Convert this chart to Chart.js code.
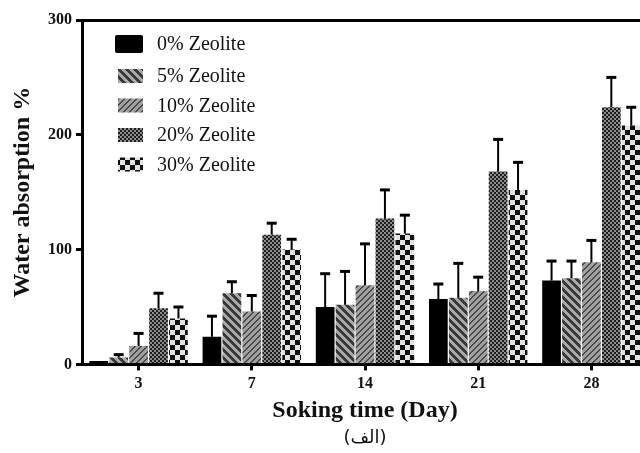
<!DOCTYPE html>
<html lang="en">
<head>
  <meta charset="UTF-8">
  <title>Water absorption</title>
  <script src="https://cdn.jsdelivr.net/npm/chart.js"></script>
  <style>
    html, body { margin: 0; padding: 0; background: #fff; overflow: hidden; }
    #wrap { width: 640px; height: 453px; overflow: hidden; }
  </style>
</head>
<body>
  <div id="wrap"><canvas id="chart" width="726" height="453"></canvas></div>

  <script>
    // data
    const days = ['3', '7', '14', '21', '28'];
    const seriesNames = ['0% Zeolite', '5% Zeolite', '10% Zeolite', '20% Zeolite', '30% Zeolite'];
    const zeolite0 = [3, 24, 50, 57, 73];
    const zeolite5 = [6, 62, 52, 58, 75];
    const zeolite10 = [16, 46, 69, 64, 89];
    const zeolite20 = [49, 113, 127, 168, 224];
    const zeolite30 = [40, 100, 114, 152, 208];
    const sd0 = [0, 18, 29, 13, 17];
    const sd5 = [2.5, 10, 29, 30, 15];
    const sd10 = [11, 14, 36, 12, 19];
    const sd20 = [13, 10, 25, 28, 26];
    const sd30 = [10, 9, 16, 24, 16];
    const yTicks = [0, 100, 200, 300];

    const serif = "'Liberation Serif', 'Times New Roman', serif";

    // fill patterns
    function makePattern(size, pick) {
      const c = document.createElement('canvas');
      c.width = size; c.height = size;
      const g = c.getContext('2d');
      const img = g.createImageData(size, size);
      for (let y = 0; y < size; y++) {
        for (let x = 0; x < size; x++) {
          const v = pick(x, y);
          const i = (y * size + x) * 4;
          img.data[i] = v; img.data[i + 1] = v; img.data[i + 2] = v; img.data[i + 3] = 255;
        }
      }
      g.putImageData(img, 0, 0);
      return document.createElement('canvas').getContext('2d').createPattern(c, 'repeat');
    }
    const fills = [
      '#000000',
      makePattern(8, (x, y) => (((x - y) % 8 + 8) % 8) < 4 ? 0x3a : 0xa8),
      makePattern(6, (x, y) => ((x + y) % 6) < 2 ? 0x4a : 0xa0),
      makePattern(4, (x, y) => ((x >> 1) + (y >> 1)) % 2 ? 0x1e : 0x8c),
      makePattern(10, (x, y) => ((Math.floor(x / 5) + Math.floor(y / 5)) % 2) ? 0x10 : 0xe2)
    ];

    const values = [zeolite0, zeolite5, zeolite10, zeolite20, zeolite30];
    const errors = [sd0, sd5, sd10, sd20, sd30];

    const errorBars = {
      id: 'errorBars',
      afterDatasetsDraw(chart) {
        const ctx = chart.ctx;
        const ys = chart.scales.y;
        ctx.save();
        ctx.strokeStyle = '#000';
        chart.data.datasets.forEach((ds, i) => {
          chart.getDatasetMeta(i).data.forEach((bar, j) => {
            const sd = ds.sd[j];
            if (!sd) return;
            const top = ys.getPixelForValue(ds.data[j] + sd);
            ctx.lineWidth = 2;
            ctx.beginPath();
            ctx.moveTo(bar.x, bar.y);
            ctx.lineTo(bar.x, top);
            ctx.stroke();
            ctx.lineWidth = 3;
            ctx.beginPath();
            ctx.moveTo(bar.x - 5, top);
            ctx.lineTo(bar.x + 5, top);
            ctx.stroke();
          });
        });
        ctx.restore();
      }
    };

    const insideLegend = {
      id: 'insideLegend',
      afterDraw(chart) {
        const ctx = chart.ctx;
        const a = chart.chartArea;
        ctx.save();
        ctx.font = '20px ' + serif;
        ctx.textBaseline = 'middle';
        seriesNames.forEach((name, i) => {
          const cy = a.top + (i === 0 ? 24 : 56 + 29.5 * (i - 1));
          ctx.fillStyle = fills[i];
          if (i === 0) {
            ctx.beginPath();
            ctx.roundRect(a.left + 33, cy - 9, 28, 18, 2);
            ctx.fill();
          } else {
            ctx.fillRect(a.left + 36, cy - 7, 25, 14);
          }
          ctx.fillStyle = '#111';
          ctx.fillText(name, a.left + 75, cy + 1);
        });
        ctx.restore();
      }
    };

    const ctx = document.getElementById('chart').getContext('2d');
    const chart = new Chart(ctx, {
      type: 'bar',
      data: {
        labels: days,
        datasets: seriesNames.map((name, i) => ({
          label: name,
          data: values[i],
          sd: errors[i],
          backgroundColor: fills[i],
          borderWidth: 0,
          barPercentage: 0.94,
          categoryPercentage: 0.88
        }))
      },
      options: {
        responsive: false,
        animation: false,
        layout: { padding: { top: 20, right: 78, left: 0, bottom: 0 } },
        scales: {
          x: {
            grid: { offset: false, drawOnChartArea: false, drawTicks: true, tickLength: 6, tickColor: '#000', tickWidth: 3 },
            border: { display: true, color: '#000', width: 3 },
            ticks: { color: '#111', padding: 4, font: { family: serif, size: 16, weight: 'bold' } },
            title: { display: true, text: 'Soking time (Day)', color: '#111', padding: { top: 4, bottom: 2 }, font: { family: serif, size: 24, weight: 'bold' } },
            afterFit(scale) { scale.height = 63; }
          },
          y: {
            min: 0,
            max: 300,
            afterBuildTicks(scale) { scale.ticks = yTicks.map(v => ({ value: v })); },
            grid: {
              drawOnChartArea: true,
              color: c => (c.tick && c.tick.value === 300) ? '#000' : 'rgba(0,0,0,0)',
              lineWidth: 3,
              tickLength: 6,
              tickColor: '#000',
              tickWidth: 3
            },
            border: { display: true, color: '#000', width: 3 },
            ticks: { color: '#111', padding: 4, font: { family: serif, size: 16, weight: 'bold' } },
            title: { display: true, text: 'Water absorption %', color: '#111', padding: { top: 8, bottom: 0 }, font: { family: serif, size: 24, weight: 'bold' } },
            afterFit(scale) { scale.width = 82; }
          }
        },
        plugins: {
          legend: { display: false },
          tooltip: { enabled: false },
          subtitle: {
            display: true,
            position: 'bottom',
            fullSize: false,
            text: '(الف)',
            color: '#111',
            padding: { top: 0, bottom: 4 },
            font: { family: "'DejaVu Sans', 'Noto Sans', serif", size: 18, weight: 'normal' }
          }
        }
      },
      plugins: [errorBars, insideLegend]
    });
  </script>
</body>
</html>
